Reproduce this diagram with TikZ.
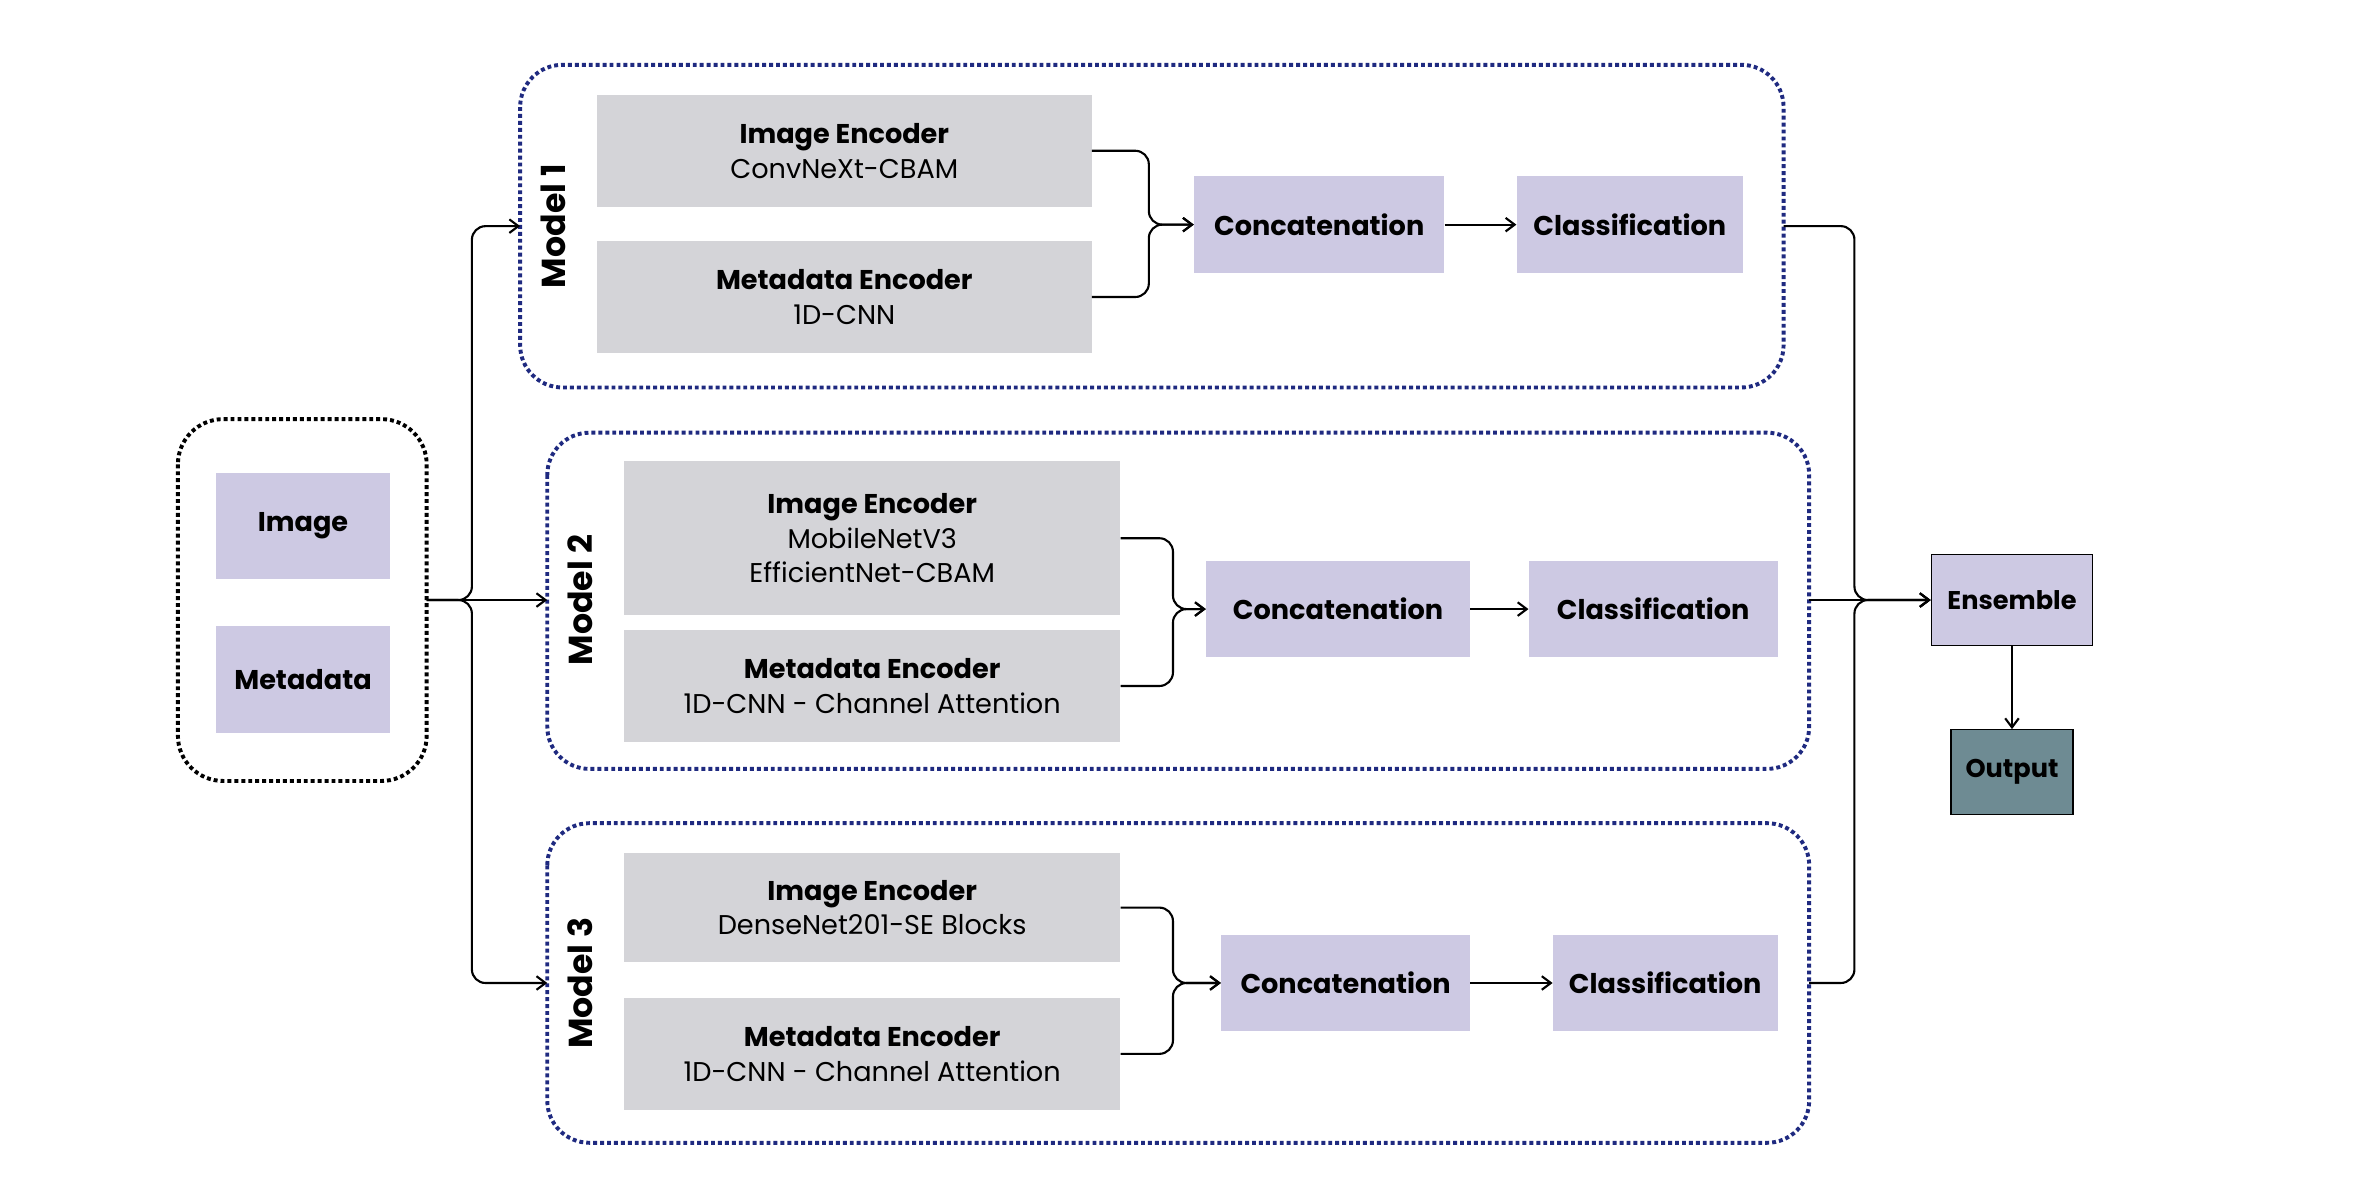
\documentclass[tikz,border=0pt]{standalone}
\usepackage{fontspec}
\setmainfont{Poppins}
\usetikzlibrary{arrows.meta}
\definecolor{encg}{HTML}{D4D4D8}
\definecolor{purp}{HTML}{CDC9E3}
\definecolor{dblue}{HTML}{1F2A80}
\definecolor{outc}{HTML}{6E8B93}
\begin{document}
\begin{tikzpicture}[x=1pt,y=-1pt,
 box/.style={draw=none,inner sep=0pt,align=center,font=\fontsize{18}{23}\selectfont},
 enc/.style={box,fill=encg},
 pb/.style={box,fill=purp,font=\fontsize{18}{23}\selectfont\bfseries},
 grp/.style={draw=dblue,line width=2.6pt,dotted,rounded corners=28pt},
 conn/.style={line width=1.4pt,rounded corners=9pt},
 arr/.style={conn,-{Straight Barb[length=6pt,width=9pt]}},
 lab/.style={font=\fontsize{22}{26}\selectfont\bfseries,rotate=90}]
\useasboundingbox (0,0) rectangle (1568,783);
% input
\draw[black,line width=2.6pt,dotted,rounded corners=30pt] (118,278) rectangle (283,518);
\node[pb,minimum width=116pt,minimum height=70pt] (img) at (201,349) {Image};
\node[pb,minimum width=116pt,minimum height=71pt] (meta) at (201,451) {Metadata};
\coordinate (in) at (283,398);
% model boxes
\draw[grp] (345,43) rectangle (1183,257);
\draw[grp] (363,287) rectangle (1200,510);
\draw[grp] (363,546) rectangle (1200,758);
\coordinate (m1l) at (345,150); \coordinate (m1r) at (1183,150);
\coordinate (m2l) at (363,398); \coordinate (m2r) at (1200,398);
\coordinate (m3l) at (363,652); \coordinate (m3r) at (1200,652);
\node[lab] (l1) at (367,150) {Model 1};
\node[lab] (l2) at (385,398) {Model 2};
\node[lab] (l3) at (385,652) {Model 3};
% model 1
\node[enc,minimum width=328pt,minimum height=74pt] (ie1) at (560,100) {\textbf{Image Encoder}\\ConvNeXt-CBAM};
\node[enc,minimum width=328pt,minimum height=74pt] (me1) at (560,197) {\textbf{Metadata Encoder}\\1D-CNN};
\node[pb,minimum width=166pt,minimum height=64pt] (c1) at (875,149) {Concatenation};
\node[pb,minimum width=150pt,minimum height=64pt] (k1) at (1081,149) {Classification};
% model 2
\node[enc,minimum width=329pt,minimum height=102pt] (ie2) at (578.5,357) {\textbf{Image Encoder}\\MobileNetV3\\EfficientNet-CBAM};
\node[enc,minimum width=329pt,minimum height=74pt] (me2) at (578.5,455) {\textbf{Metadata Encoder}\\1D-CNN - Channel Attention};
\node[pb,minimum width=175pt,minimum height=64pt] (c2) at (887.5,404) {Concatenation};
\node[pb,minimum width=165pt,minimum height=64pt] (k2) at (1096.5,404) {Classification};
% model 3
\node[enc,minimum width=329pt,minimum height=72pt] (ie3) at (578.5,602) {\textbf{Image Encoder}\\DenseNet201-SE Blocks};
\node[enc,minimum width=329pt,minimum height=74pt] (me3) at (578.5,699) {\textbf{Metadata Encoder}\\1D-CNN - Channel Attention};
\node[pb,minimum width=165pt,minimum height=64pt] (c3) at (892.5,652) {Concatenation};
\node[pb,minimum width=149pt,minimum height=64pt] (k3) at (1104.5,652) {Classification};
% ensemble
\node[pb,draw=black,line width=0.8pt,minimum width=107pt,minimum height=60pt,font=\fontsize{17}{20}\selectfont\bfseries] (ens) at (1334.5,398) {Ensemble};
\node[box,fill=outc,draw=black,line width=0.8pt,minimum width=81pt,minimum height=56pt,font=\fontsize{17}{20}\selectfont\bfseries] (out) at (1334.5,512) {Output};
% input connectors
\draw[arr] (in) -- (313,398) |- (m1l);
\draw[arr] (in) -- (m2l);
\draw[arr] (in) -- (313,398) |- (m3l);
% encoder -> concat
\foreach \i/\x in {1/762,2/778,3/778}{
 \draw[arr] (ie\i.east) -| (\x,0 |- c\i.west) -- (c\i.west);
 \draw[arr] (me\i.east) -| (\x,0 |- c\i.west) -- (c\i.west);
 \draw[arr] (c\i) -- (k\i);
}
% models -> ensemble
\draw[arr] (m1r) -| (1230,398) -- (ens.west);
\draw[arr] (m2r) -- (ens.west);
\draw[arr] (m3r) -| (1230,398) -- (ens.west);
\draw[arr] (ens) -- (out);
\end{tikzpicture}
\end{document}
